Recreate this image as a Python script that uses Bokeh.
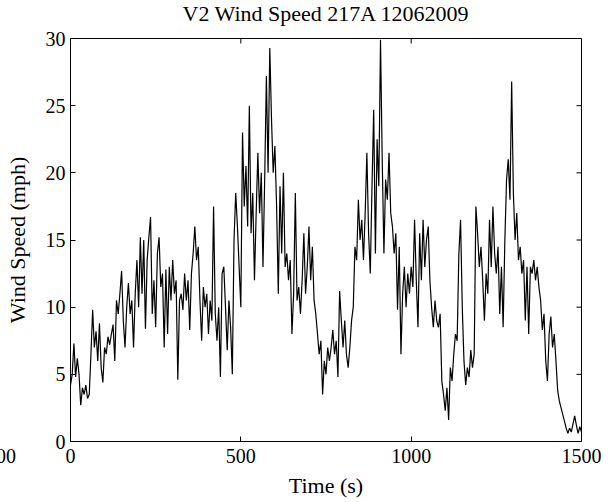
import math
from bokeh.plotting import figure
from bokeh.models import Range1d, FixedTicker, Div
from bokeh.layouts import column
from bokeh.embed import file_html
from bokeh.resources import INLINE

t_step = 5
speed = [
    4.2, 5.0, 7.3, 4.8, 6.2, 5.0, 2.7, 4.0, 3.5, 4.2,
    3.2, 3.5, 6.5, 9.8, 7.0, 8.2, 6.0, 8.8, 5.5, 4.4,
    7.0, 6.5, 7.8, 7.2, 8.0, 8.7, 6.0, 10.5, 9.5, 11.0,
    12.7, 9.0, 7.0, 10.0, 11.8, 9.5, 10.5, 7.0, 11.0, 13.5,
    10.0, 15.2, 11.0, 15.0, 8.4, 13.5, 15.2, 16.7, 9.5, 12.0,
    8.5, 14.0, 15.2, 11.5, 12.5, 7.0, 12.8, 8.0, 13.0, 10.5,
    13.5, 11.0, 12.0, 4.6, 10.5, 11.0, 9.8, 12.5, 10.5, 12.0,
    8.3, 12.5, 14.0, 16.0, 13.5, 14.5, 10.5, 7.5, 11.5, 10.0,
    11.0, 8.0, 10.5, 9.0, 17.5, 9.5, 7.5, 10.0, 4.8, 12.5,
    13.0, 10.0, 6.8, 10.5, 8.5, 5.0, 15.0, 18.5, 16.0, 13.0,
    10.0, 23.0, 17.5, 20.5, 16.0, 25.0, 15.5, 18.5, 12.0, 17.0,
    21.5, 17.0, 20.0, 13.0, 19.5, 27.2, 20.0, 29.3, 24.0, 20.0,
    22.0, 17.5, 11.0, 19.0, 14.0, 20.0, 13.0, 14.0, 12.0, 13.5,
    8.0, 11.0, 18.5, 10.5, 11.5, 9.5, 12.0, 15.5, 11.0, 13.0,
    16.0, 12.0, 14.5, 10.5, 9.5, 8.0, 6.5, 7.5, 3.5, 6.0,
    5.0, 7.0, 6.0, 7.0, 8.3, 6.5, 7.5, 4.8, 11.2, 9.0,
    7.0, 9.0, 6.5, 5.5, 7.0, 9.0, 10.0, 14.5, 13.5, 18.0,
    15.0, 16.5, 13.5, 17.0, 21.5, 15.5, 12.5, 19.0, 24.7, 14.0,
    22.5, 19.0, 29.9, 21.0, 14.0, 19.5, 18.0, 21.5, 17.0, 16.0,
    14.0, 15.5, 9.8, 14.5, 6.5, 11.0, 13.0, 10.0, 12.5, 11.0,
    13.0, 11.5, 16.5, 12.0, 8.5, 15.5, 12.0, 16.5, 13.0, 15.0,
    16.0, 12.0, 10.0, 8.5, 10.5, 9.0, 8.5, 9.5, 4.5, 3.5,
    2.3, 4.0, 1.6, 5.5, 4.5, 6.5, 8.0, 7.5, 14.0, 16.5,
    10.0, 6.0, 4.2, 5.5, 4.8, 6.8, 5.5, 6.5, 17.5, 15.5,
    13.0, 14.5, 12.0, 9.0, 12.5, 11.0, 16.5, 13.0, 17.5, 14.0,
    12.5, 14.5, 9.5, 13.0, 8.5, 15.0, 19.5, 21.0, 18.0, 26.8,
    18.5, 15.0, 17.0, 13.5, 14.5, 12.5, 13.5, 9.0, 13.0, 8.0,
    13.0, 12.5, 13.5, 12.0, 13.0, 11.5, 10.5, 8.3, 9.5, 6.0,
    4.5, 8.0, 9.3, 7.0, 8.0, 6.0, 3.8, 3.0, 2.5, 2.0,
    1.5, 1.0, 0.6, 1.0, 0.7, 1.3, 1.9, 1.2, 0.6, 1.1, 0.7,
]
time_s = [i * t_step for i in range(len(speed))]

x_ticks = [0, 500, 1000, 1500]
y_ticks = [0, 5, 10, 15, 20, 25, 30]
x_min, x_max = 0, 1500
y_min, y_max = 0, 30
title_text = "V2 Wind Speed 217A 12062009"
x_label = "Time (s)"
y_label = "Wind Speed (mph)"
stray_text = "00"

FONT = "Liberation Serif"
FS = "20px"
LFS = "22px"

p = figure(width=616, height=502, output_backend="svg", toolbar_location=None,
           x_range=Range1d(x_min, x_max), y_range=Range1d(y_min, y_max),
           min_border_left=70, min_border_right=35, min_border_top=38, min_border_bottom=61)
p.background_fill_color = "white"
p.border_fill_color = "white"
p.outline_line_color = "black"
p.outline_line_width = 1
p.xgrid.visible = False
p.ygrid.visible = False

p.line(time_s, speed, line_color="black", line_width=1.2)

for ax in p.xaxis:
    ax.ticker = FixedTicker(ticks=x_ticks)
for ax in p.yaxis:
    ax.ticker = FixedTicker(ticks=y_ticks)

for ax in list(p.xaxis) + list(p.yaxis):
    ax.major_tick_in = 5
    ax.major_tick_out = 0
    ax.minor_tick_line_color = None
    ax.axis_line_color = "black"
    ax.major_tick_line_color = "black"
    ax.major_label_text_font = FONT
    ax.major_label_text_font_size = FS
    ax.major_label_text_color = "black"
    ax.axis_label_text_font = FONT
    ax.axis_label_text_font_size = LFS
    ax.axis_label_text_font_style = "normal"
    ax.axis_label_text_color = "black"

p.xaxis.axis_label = x_label
p.xaxis.axis_label_standoff = 7
p.xaxis.major_label_standoff = 7
p.yaxis.axis_label = y_label
p.yaxis.axis_label_standoff = 13
p.yaxis.major_label_standoff = 5

# inward ticks on the top and right edges (box on)
p.ray(x=x_ticks, y=[y_max] * len(x_ticks), length=5, angle=-math.pi / 2,
      length_units="screen", line_color="black", line_width=1)
p.ray(x=[x_max] * len(y_ticks), y=y_ticks, length=5, angle=math.pi,
      length_units="screen", line_color="black", line_width=1)

# title, centred over the plot frame
title = Div(text=title_text, width=511, height=22,
            styles={"position": "absolute", "left": "70px", "top": "3px",
                    "font-family": "Liberation Serif", "font-size": LFS,
                    "color": "black", "margin": "0", "line-height": "22px",
                    "text-align": "center", "white-space": "nowrap"})

# tick-label fragment at the bottom-left edge of the reference
stray = Div(text=stray_text, width=24, height=24,
            styles={"position": "absolute", "left": "-4px", "top": "444px",
                    "font-family": "Liberation Serif", "font-size": FS,
                    "color": "black", "margin": "0", "line-height": "24px"})

layout = column(p, title, stray)
open("out.html", "w").write(file_html(layout, INLINE))
